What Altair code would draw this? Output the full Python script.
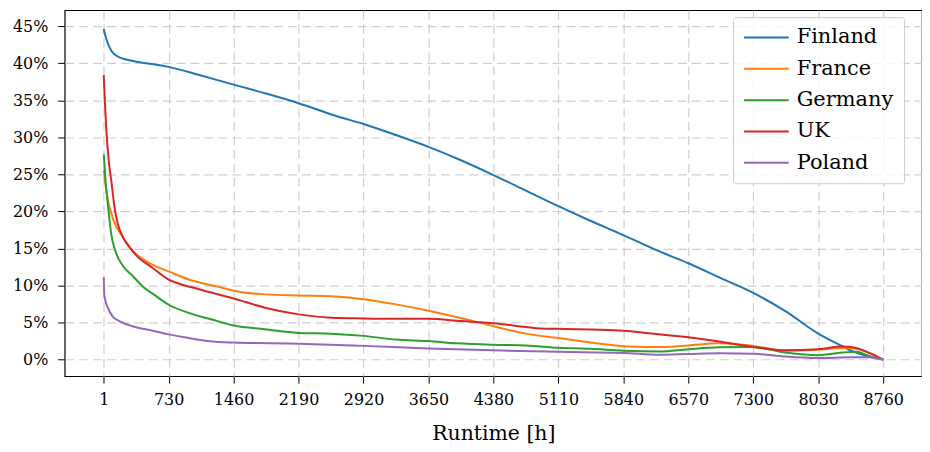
import altair as alt
import pandas as pd

countries = ["Finland", "France", "Germany", "UK", "Poland"]
colors = ["#1f77b4", "#ff7f0e", "#2ca02c", "#d62728", "#9467bd"]
x_ticks = [1, 730, 1460, 2190, 2920, 3650, 4380, 5110, 5840, 6570, 7300, 8030, 8760]
y_ticks = [0, 5, 10, 15, 20, 25, 30, 35, 40, 45]

fin_h = [1, 12, 50, 90, 145, 220, 330, 440, 590, 730, 1075, 1460, 1825, 2190, 2630, 2920,
         3285, 3650, 4015, 4380, 4745, 5110, 5475, 5840, 6205, 6570, 6935, 7300, 7665,
         8030, 8300, 8400, 8600, 8760]
fin_v = [44.6, 44.0, 42.6, 41.6, 41.0, 40.6, 40.3, 40.05, 39.8, 39.5, 38.4, 37.1, 35.9, 34.6,
         32.8, 31.8, 30.3, 28.7, 26.9, 24.9, 22.8, 20.7, 18.7, 16.8, 14.8, 13.0, 11.0, 9.0,
         6.5, 3.5, 1.8, 1.2, 0.4, 0.0]

fra_h = [1, 46, 83, 139, 194, 325, 548, 730, 957, 1329, 1460, 1813, 2190, 2557, 2920, 3285,
         3650, 4015, 4380, 4745, 5110, 5475, 5840, 6100, 6300, 6570, 6917, 7300, 7663, 8030,
         8300, 8450, 8600, 8760]
fra_v = [25.5, 21.6, 19.8, 18.0, 16.9, 14.7, 12.8, 11.9, 10.8, 9.7, 9.3, 8.8, 8.65, 8.55, 8.15,
         7.45, 6.6, 5.6, 4.5, 3.5, 2.9, 2.3, 1.8, 1.7, 1.7, 1.9, 2.2, 1.85, 1.2, 1.35, 1.55,
         1.45, 0.9, 0.0]

ger_h = [1, 20, 46, 83, 139, 213, 325, 436, 585, 730, 957, 1217, 1460, 1813, 2190, 2557,
         2920, 3285, 3650, 3970, 4380, 4745, 5110, 5475, 5840, 6245, 6570, 6917, 7300, 7663,
         8030, 8300, 8450, 8600, 8760]
ger_v = [27.7, 24.3, 21.1, 17.1, 14.4, 12.7, 11.3, 9.9, 8.6, 7.4, 6.3, 5.4, 4.6, 4.1, 3.6,
         3.5, 3.2, 2.7, 2.5, 2.2, 2.0, 1.9, 1.6, 1.45, 1.2, 1.1, 1.4, 1.65, 1.7, 0.95, 0.6,
         0.95, 1.05, 0.5, 0.0]

uk_h = [1, 30, 60, 87, 105, 120, 157, 213, 287, 380, 548, 730, 808, 1069, 1460, 1813, 2190,
        2557, 2920, 3285, 3650, 4015, 4380, 4745, 4905, 5110, 5475, 5840, 6100, 6570, 6935,
        7300, 7663, 8030, 8297, 8446, 8558, 8760]
uk_v = [38.4, 31.0, 26.5, 24.0, 22.2, 20.7, 18.4, 16.6, 15.2, 13.9, 12.4, 10.8, 10.4, 9.5,
        8.25, 7.0, 6.1, 5.65, 5.55, 5.5, 5.5, 5.2, 4.9, 4.4, 4.2, 4.15, 4.05, 3.9, 3.6, 3.0,
        2.4, 1.7, 1.25, 1.4, 1.75, 1.6, 1.15, 0.0]

pol_h = [1, 8, 46, 102, 176, 325, 548, 730, 957, 1255, 1460, 2190, 2920, 3650, 4380, 5110,
         5840, 6245, 6570, 6917, 7300, 7663, 8030, 8400, 8600, 8760]
pol_v = [11.1, 8.6, 7.0, 5.8, 5.2, 4.5, 3.9, 3.4, 2.9, 2.4, 2.3, 2.15, 1.85, 1.5, 1.25, 1.05,
         0.9, 0.65, 0.75, 0.85, 0.8, 0.4, 0.2, 0.3, 0.3, 0.0]

series_h = [fin_h, fra_h, ger_h, uk_h, pol_h]
series_v = [fin_v, fra_v, ger_v, uk_v, pol_v]

rows = []
for name, hs, vs in zip(countries, series_h, series_v):
    for h, v in zip(hs, vs):
        rows.append({"country": name, "hours": h, "share": v})
df = pd.DataFrame(rows)

FONT = "DejaVu Serif"

chart = alt.Chart(df).mark_line(strokeWidth=2, interpolate="monotone").encode(
    x=alt.X("hours:Q",
            scale=alt.Scale(domain=[-438, 9196], nice=False, zero=False),
            axis=alt.Axis(values=x_ticks, format="d", title="Runtime [h]", titleFont=FONT,
                          titleFontSize=20.5, titleFontWeight="normal", titleColor="black",
                          titleY=64, titleBaseline="alphabetic",
                          labelFont=FONT, labelFontSize=16, labelColor="black",
                          labelFlush=False, labelOverlap=False, labelPadding=8)),
    y=alt.Y("share:Q",
            scale=alt.Scale(domain=[-2.24, 47.15], nice=False, zero=False),
            axis=alt.Axis(values=y_ticks, title=None, labelExpr="datum.value + '%'",
                          labelFont=FONT, labelFontSize=16, labelColor="black",
                          labelPadding=10)),
    color=alt.Color("country:N",
                    scale=alt.Scale(domain=countries, range=colors),
                    sort=countries,
                    legend=alt.Legend(title=None, orient="none", legendX=672, legendY=7,
                                      symbolType="stroke", symbolSize=2025,
                                      symbolStrokeWidth=2, labelFont=FONT,
                                      labelFontSize=21, labelColor="black",
                                      clipHeight=21,
                                      padding=10, rowPadding=9.5, labelOffset=7,
                                      strokeColor="#cccccc",
                                      fillColor="rgba(255,255,255,0.8)",
                                      cornerRadius=3)),
).properties(
    width=862, height=368,
    padding={"left": 57, "top": 1, "right": 0, "bottom": 67},
    autosize=alt.AutoSizeParams(type="none"),
).configure_view(
    stroke="#000000", strokeWidth=1.2
).configure_axis(
    labelFont=FONT, labelFontSize=16, labelColor="black",
    tickColor="black", tickSize=7, tickWidth=1,
    grid=True, gridDash=[9, 5], gridColor="#cfcfcf", gridWidth=1.2,
    domain=False,
)

chart.save("out.html", embed_options={"renderer": "svg", "actions": False})
